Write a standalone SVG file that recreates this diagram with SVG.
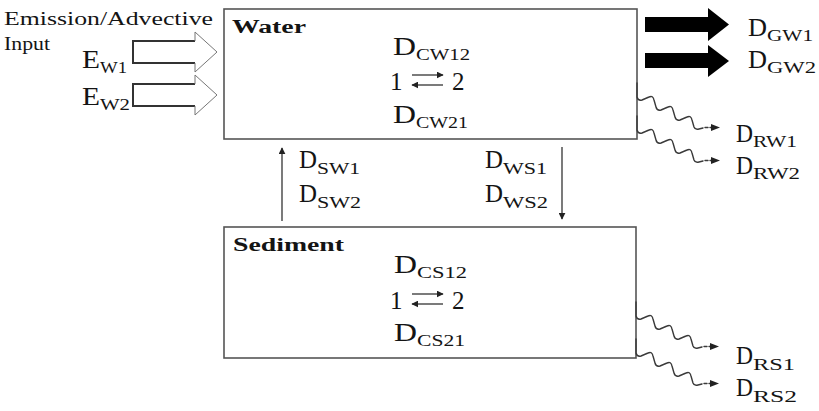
<svg xmlns="http://www.w3.org/2000/svg" width="819" height="411" viewBox="0 0 819 411">
  <style>
    .box { fill: #ffffff; stroke: #555555; stroke-width: 1.6; }
    .t { font-family: "Liberation Serif", "DejaVu Serif", "Noto Serif", serif; fill: #141414; }
    .main { font-size: 25px; }
    .sub { font-size: 16px; }
    .small { font-size: 18px; }
    .title { font-size: 18px; font-weight: bold; }
    .line { stroke: #333333; stroke-width: 1.3; fill: none; }
    .wave { stroke: #3a3a3a; stroke-width: 1.4; fill: none; stroke-linejoin: round; stroke-linecap: round; }
    .hollow-body { stroke: #333333; stroke-width: 2; fill: none; }
    .hollow-head { stroke: #777777; stroke-width: 1; fill: none; }
    .solid { fill: #000000; }
  </style>
  <defs>
    <marker id="head" viewBox="0 0 10 10" refX="9" refY="5" markerWidth="7" markerHeight="7" orient="auto" markerUnits="userSpaceOnUse">
      <path d="M0,0 L10,5 L0,10 Z" fill="#222222"/>
    </marker>
    <!-- squiggly loss pathway: short tick on the box edge, then a stepped wave down to the right -->
    <g id="squiggle">
      <path class="wave" d="M0,-14 V0 Q1,4 5,3 L12,0 Q16,-2 17,3 L19,10 Q20,14 24,13 L31,10 Q35,8 36,13 L38,20 Q39,24 43,23 L50,20 Q54,18 55,23 L57,30 Q58,33 62,32 L66,31"/>
      <path class="wave" d="M68,30.5 L74,30.5" stroke-dasharray="3 2"/>
      <path d="M74,27 L83,30.5 L74,34 Z" fill="#222222"/>
    </g>
  </defs>

  <!-- emission / advective input -->
  <g id="input">
    <text class="t small" x="4" y="25" textLength="209" lengthAdjust="spacingAndGlyphs">Emission/Advective</text>
    <text class="t small" x="4" y="50" textLength="46" lengthAdjust="spacingAndGlyphs">Input</text>
    <text class="t main" x="82" y="68" textLength="18" lengthAdjust="spacingAndGlyphs">E</text>
    <text class="t sub" x="100" y="73" textLength="27" lengthAdjust="spacingAndGlyphs">W1</text>
    <text class="t main" x="82" y="105" textLength="18" lengthAdjust="spacingAndGlyphs">E</text>
    <text class="t sub" x="100" y="110" textLength="30" lengthAdjust="spacingAndGlyphs">W2</text>
  </g>

  <!-- water compartment -->
  <g id="water">
    <rect class="box" x="224" y="9" width="413" height="130"/>
    <text class="t title" x="232" y="33" textLength="74" lengthAdjust="spacingAndGlyphs">Water</text>
    <text class="t main" x="393" y="55" textLength="23" lengthAdjust="spacingAndGlyphs">D</text>
    <text class="t sub" x="416" y="60" textLength="54" lengthAdjust="spacingAndGlyphs">CW12</text>
    <text class="t main" x="390" y="90">1</text>
    <line class="line" x1="412" y1="75" x2="443" y2="75" marker-end="url(#head)"/>
    <line class="line" x1="443" y1="85" x2="412" y2="85" marker-end="url(#head)"/>
    <text class="t main" x="452" y="90">2</text>
    <text class="t main" x="393" y="123" textLength="23" lengthAdjust="spacingAndGlyphs">D</text>
    <text class="t sub" x="416" y="128" textLength="52" lengthAdjust="spacingAndGlyphs">CW21</text>
  </g>

  <!-- sediment compartment -->
  <g id="sediment">
    <rect class="box" x="224" y="227" width="412" height="131"/>
    <text class="t title" x="233" y="251" textLength="111" lengthAdjust="spacingAndGlyphs">Sediment</text>
    <text class="t main" x="394" y="273" textLength="23" lengthAdjust="spacingAndGlyphs">D</text>
    <text class="t sub" x="417" y="278" textLength="50" lengthAdjust="spacingAndGlyphs">CS12</text>
    <text class="t main" x="390" y="309">1</text>
    <line class="line" x1="412" y1="294" x2="443" y2="294" marker-end="url(#head)"/>
    <line class="line" x1="443" y1="304" x2="412" y2="304" marker-end="url(#head)"/>
    <text class="t main" x="452" y="309">2</text>
    <text class="t main" x="394" y="341" textLength="23" lengthAdjust="spacingAndGlyphs">D</text>
    <text class="t sub" x="417" y="346" textLength="48" lengthAdjust="spacingAndGlyphs">CS21</text>
  </g>

  <!-- transfer pathways -->
  <g id="connectors">
    <!-- hollow input arrows -->
    <path class="hollow-body" d="M195,41 H133 V63 H195"/>
    <path class="hollow-head" d="M195,41 V32 L217,52 L195,72 V63"/>
    <path class="hollow-body" d="M195,84 H133 V106 H195"/>
    <path class="hollow-head" d="M195,84 V75 L217,95 L195,115 V106"/>

    <!-- advective outflow -->
    <polygon class="solid" points="645,17 708,17 708,8 729,24.5 708,41 708,32 645,32"/>
    <polygon class="solid" points="645,53 708,53 708,45 729,61 708,77 708,68 645,68"/>

    <!-- sediment to water / water to sediment -->
    <line class="line" x1="282" y1="221" x2="282" y2="148" marker-end="url(#head)"/>
    <line class="line" x1="562" y1="147" x2="562" y2="219" marker-end="url(#head)"/>

    <!-- reaction losses -->
    <use href="#squiggle" transform="translate(637,97)"/>
    <use href="#squiggle" transform="translate(637,130)"/>
    <use href="#squiggle" transform="translate(636,316)"/>
    <use href="#squiggle" transform="translate(636,353)"/>
  </g>

  <!-- pathway labels -->
  <g id="labels">
    <text class="t main" x="299" y="168" textLength="18" lengthAdjust="spacingAndGlyphs">D</text>
    <text class="t sub" x="317" y="174" textLength="43" lengthAdjust="spacingAndGlyphs">SW1</text>
    <text class="t main" x="299" y="202" textLength="18" lengthAdjust="spacingAndGlyphs">D</text>
    <text class="t sub" x="317" y="208" textLength="44" lengthAdjust="spacingAndGlyphs">SW2</text>

    <text class="t main" x="485" y="168" textLength="18" lengthAdjust="spacingAndGlyphs">D</text>
    <text class="t sub" x="503" y="174" textLength="44" lengthAdjust="spacingAndGlyphs">WS1</text>
    <text class="t main" x="485" y="202" textLength="18" lengthAdjust="spacingAndGlyphs">D</text>
    <text class="t sub" x="503" y="208" textLength="45" lengthAdjust="spacingAndGlyphs">WS2</text>

    <text class="t main" x="748" y="36" textLength="19" lengthAdjust="spacingAndGlyphs">D</text>
    <text class="t sub" x="767" y="41" textLength="46" lengthAdjust="spacingAndGlyphs">GW1</text>
    <text class="t main" x="748" y="68" textLength="19" lengthAdjust="spacingAndGlyphs">D</text>
    <text class="t sub" x="767" y="73" textLength="49" lengthAdjust="spacingAndGlyphs">GW2</text>

    <text class="t main" x="736" y="142" textLength="17" lengthAdjust="spacingAndGlyphs">D</text>
    <text class="t sub" x="753" y="147" textLength="44" lengthAdjust="spacingAndGlyphs">RW1</text>
    <text class="t main" x="736" y="174" textLength="17" lengthAdjust="spacingAndGlyphs">D</text>
    <text class="t sub" x="753" y="179" textLength="47" lengthAdjust="spacingAndGlyphs">RW2</text>

    <text class="t main" x="736" y="364" textLength="17" lengthAdjust="spacingAndGlyphs">D</text>
    <text class="t sub" x="753" y="370" textLength="42" lengthAdjust="spacingAndGlyphs">RS1</text>
    <text class="t main" x="736" y="396" textLength="17" lengthAdjust="spacingAndGlyphs">D</text>
    <text class="t sub" x="753" y="402" textLength="44" lengthAdjust="spacingAndGlyphs">RS2</text>
  </g>
</svg>
